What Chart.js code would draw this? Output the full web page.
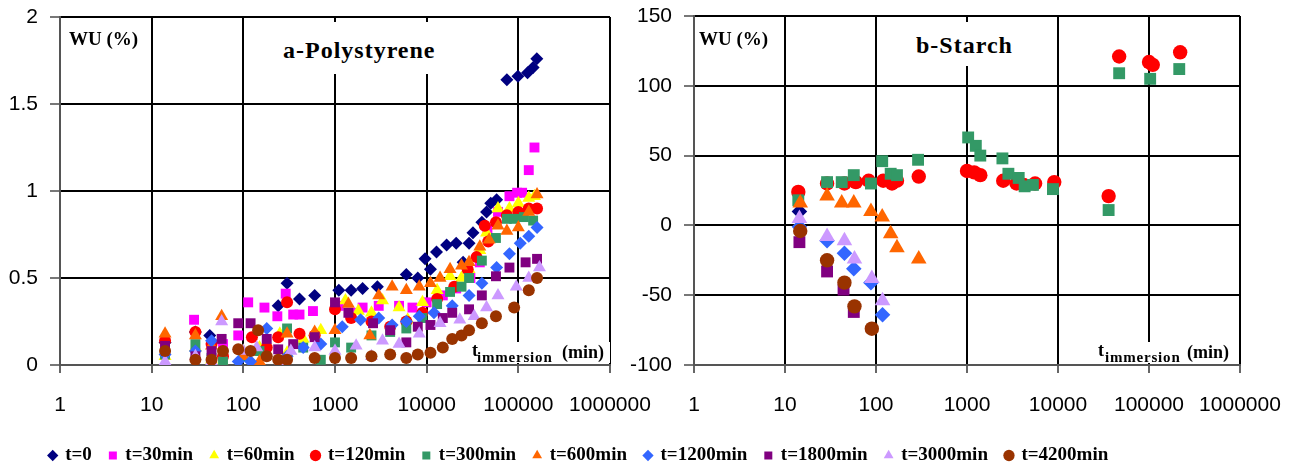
<!DOCTYPE html>
<html>
<head>
<meta charset="utf-8">
<script src="https://cdn.jsdelivr.net/npm/chart.js@4.4.0/dist/chart.umd.min.js"></script>
<style>
body{margin:0;background:#fff;width:1309px;height:468px;position:relative;overflow:hidden}
canvas{position:absolute}
.lbl{position:absolute;font-family:"Liberation Serif",serif;font-weight:bold;color:#000;background:#fff;white-space:nowrap;line-height:1;box-sizing:border-box;z-index:5}
.lbl span{position:absolute}
</style>
</head>
<body>
<canvas id="chartA" width="660" height="430" style="left:0;top:0"></canvas>
<canvas id="chartB" width="679" height="430" style="left:630px;top:0"></canvas>
<canvas id="legendC" width="1158" height="90" style="left:0;top:428px"></canvas>

<div class="lbl" style="left:69px;top:29px;font-size:19px;background:none">WU (%)</div>
<div class="lbl" style="left:262px;top:22px;width:183px;height:52px;padding:16px 0 0 21px;font-size:24px;letter-spacing:1px">a-Polystyrene</div>
<div class="lbl" style="left:468px;top:342px;width:142px;height:21px">
  <span style="left:4px;top:-1px;font-size:18px">t</span>
  <span style="left:9px;top:8px;font-size:15px;letter-spacing:0.8px">immersion</span>
  <span style="left:94px;top:1px;font-size:18px">(min)</span>
</div>

<div class="lbl" style="left:699px;top:29px;font-size:19px;background:none">WU (%)</div>
<div class="lbl" style="left:903px;top:22px;width:112px;height:44px;padding:11px 0 0 13px;font-size:24px;letter-spacing:1px">b-Starch</div>
<div class="lbl" style="left:1093px;top:342px;width:146px;height:21px">
  <span style="left:5px;top:-1px;font-size:18px">t</span>
  <span style="left:12px;top:8px;font-size:15px;letter-spacing:0.8px">immersion</span>
  <span style="left:94px;top:1px;font-size:18px">(min)</span>
</div>

<script>
// series labels
var seriesLabels = ["t=0","t=30min","t=60min","t=120min","t=300min","t=600min","t=1200min","t=1800min","t=3000min","t=4200min"];

// axis ticks
var xTickVals = [1,10,100,1000,10000,100000,1000000];
var yTicksA = [0,0.5,1,1.5,2];
var yTicksB = [-100,-50,0,50,100,150];

// a-Polystyrene: [t immersion (min), WU (%)]
var psT0 = [[14,0.13],[30,0.19],[43,0.17],[240,0.34],[300,0.47],[410,0.38],[600,0.4],[1100,0.43],[1500,0.43],[2000,0.44],[2900,0.45],[6000,0.52],[8000,0.5],[9600,0.61],[11000,0.55],[12800,0.65],[16500,0.69],[21000,0.7],[25000,0.59],[29000,0.7],[32000,0.76],[40000,0.82],[45000,0.88],[50000,0.93],[58000,0.95],[75000,1.64],[99000,1.66],[126000,1.68],[145000,1.71],[159000,1.76]];
var psT30 = [[14,0.1],[29,0.26],[60,0.12],[88,0.17],[113,0.36],[170,0.33],[235,0.28],[290,0.41],[350,0.29],[410,0.29],[575,0.31],[1100,0.34],[1500,0.3],[2000,0.33],[3000,0.34],[5000,0.34],[7000,0.33],[10000,0.36],[15000,0.4],[21000,0.44],[30000,0.5],[38000,0.59],[46000,0.78],[60000,0.88],[80000,0.97],[97000,0.99],[110000,0.99],[130000,1.12],[150000,1.25]];
var psT60 = [[14,0.05],[30,0.1],[45,0.03],[60,0.01],[100,0.08],[150,0.1],[250,0.18],[300,0.07],[450,0.15],[700,0.2],[1300,0.37],[1800,0.31],[2500,0.3],[3300,0.37],[5000,0.33],[6200,0.26],[9000,0.36],[13000,0.43],[18000,0.51],[24000,0.5],[29000,0.55],[38000,0.66],[45000,0.76],[60000,0.9],[80000,0.9],[100000,0.93],[130000,0.96],[150000,0.97]];
var psT120 = [[14,0.14],[30,0.19],[45,0.12],[60,0.05],[124,0.16],[180,0.1],[240,0.16],[300,0.36],[410,0.18],[600,0.17],[1000,0.32],[1500,0.27],[2500,0.25],[4000,0.22],[6000,0.25],[9000,0.3],[13000,0.38],[20000,0.45],[28000,0.55],[35000,0.62],[43000,0.8],[47000,0.71],[57000,0.82],[75000,0.86],[100000,0.88],[130000,0.9],[160000,0.9]];
var psT300 = [[14,0.06],[30,0.12],[45,0.04],[60,0.02],[100,0.05],[150,0.08],[300,0.21],[450,0.1],[700,0.03],[1000,0.13],[1500,0.1],[2500,0.17],[4000,0.19],[6000,0.21],[9000,0.27],[13000,0.35],[18000,0.42],[24000,0.45],[29000,0.5],[40000,0.6],[57000,0.73],[75000,0.84],[90000,0.84],[115000,0.85],[145000,0.83]];
var psT600 = [[14,0.18],[30,0.17],[45,0.11],[58,0.28],[100,0.05],[150,0.02],[300,0.18],[600,0.19],[1000,0.2],[1400,0.35],[2400,0.17],[3000,0.4],[4200,0.45],[6000,0.43],[8300,0.45],[11000,0.47],[14000,0.5],[18000,0.55],[24000,0.57],[29000,0.59],[38000,0.68],[48000,0.72],[60000,0.8],[75000,0.77],[100000,0.79],[130000,0.88],[160000,0.98]];
var psT1200 = [[14,0.06],[30,0.08],[45,0.14],[88,0.02],[120,0.02],[180,0.21],[300,0.05],[450,0.1],[700,0.12],[1200,0.22],[1900,0.26],[3000,0.27],[4200,0.23],[6000,0.25],[8300,0.28],[12000,0.3],[19000,0.34],[29000,0.4],[40000,0.47],[58000,0.56],[80000,0.64],[105000,0.7],[130000,0.74],[160000,0.79]];
var psT1800 = [[14,0.11],[30,0.05],[45,0.08],[58,0.15],[88,0.24],[120,0.24],[180,0.15],[240,0.09],[350,0.12],[600,0.16],[1000,0.36],[1400,0.3],[2600,0.24],[4000,0.2],[6000,0.13],[8000,0.22],[11000,0.23],[15000,0.27],[19000,0.3],[29000,0.32],[40000,0.4],[57000,0.51],[80000,0.56],[120000,0.59],[160000,0.61]];
var psT3000 = [[14,0.02],[30,0.05],[45,0.02],[58,0.25],[100,0.08],[140,0.1],[250,0.01],[330,0.08],[600,0.1],[1000,0.08],[1700,0.11],[2500,0.05],[3300,0.14],[5000,0.12],[8300,0.18],[14000,0.24],[23000,0.26],[33000,0.28],[45000,0.33],[60000,0.4],[95000,0.45],[130000,0.5],[170000,0.56]];
var psT4200 = [[14,0.08],[30,0.03],[45,0.03],[60,0.08],[88,0.09],[120,0.08],[145,0.2],[180,0.05],[240,0.03],[300,0.03],[600,0.04],[1000,0.04],[1500,0.04],[2500,0.05],[4000,0.06],[6000,0.04],[8000,0.06],[11000,0.07],[15000,0.1],[19000,0.15],[24000,0.17],[29000,0.2],[40000,0.24],[57000,0.28],[90000,0.33],[130000,0.43],[160000,0.5]];

// b-Starch
var stT0 = [[14.4,10]];
var stT30 = [];
var stT60 = [];
var stT120 = [[14,24],[29,30],[45,30],[60,31],[83,32],[120,32],[150,30],[170,32],[295,35],[1000,39],[1200,38],[1400,36],[2500,32],[3500,30],[4200,29],[5600,30],[9100,31],[36000,21],[47000,121],[100000,117],[110000,115],[220000,124]];
var stT300 = [[14,18],[29,31],[42,31],[57,36],[88,30],[117,46],[145,37],[170,36],[290,47],[1030,63],[1250,57],[1400,50],[2450,48],[2850,37],[3700,34],[4300,28],[5300,29],[8800,26],[36000,11],[47000,109],[103000,105],[215000,112]];
var stT600 = [[14.7,16],[29,21],[42,16],[57,16],[88,10],[117,6],[145,-6],[170,-16],[295,-24]];
var stT1200 = [[14.4,-1],[29,-11],[45,-20],[57,-31],[88,-41],[118,-64]];
var stT1800 = [[14.4,-12],[29,-33],[44,-46],[57,-62]];
var stT3000 = [[14.4,5],[29,-8],[45,-11],[58,-24],[90,-38],[118,-54]];
var stT4200 = [[14.7,-4],[29,-25],[45,-41],[58,-58],[90,-74]];

var psSeries = [psT0,psT30,psT60,psT120,psT300,psT600,psT1200,psT1800,psT3000,psT4200];
var stSeries = [stT0,stT30,stT60,stT120,stT300,stT600,stT1200,stT1800,stT3000,stT4200];

var markerColors = ["#000080","#FF00FF","#FFFF00","#FF0000","#339966","#FF6600","#3366FF","#800080","#CC99FF","#993300"];
var markerShapes = ["rectRot","rect","triangle","circle","rect","triangle","rectRot","rect","triangle","circle"];
var markerSizes = [6.5,7,7.5,6,7,7.5,6.5,7,7.5,6];

function toPts(arr) {
    return arr.map(function(p){ return {x:p[0], y:p[1]}; });
}

function makeSets(series, scale) {
    return series.map(function(s, i){
        return {
            label: seriesLabels[i],
            data: toPts(s),
            pointStyle: markerShapes[i],
            pointRadius: markerSizes[i] * scale,
            pointHoverRadius: markerSizes[i] * scale,
            backgroundColor: markerColors[i],
            borderColor: markerColors[i],
            pointBorderWidth: 0,
            order: 10 - i   // later series on top, like the original
        };
    });
}

function makeChart(id, series, yTicks, yWidth, pad, size) {
    return new Chart(document.getElementById(id).getContext("2d"), {
        type: "scatter",
        data: { datasets: makeSets(series, size) },
        options: {
            responsive: false,
            animation: false,
            layout: { padding: pad },
            plugins: { legend: { display: false }, tooltip: { enabled: false } },
            scales: {
                x: {
                    type: "logarithmic",
                    min: xTickVals[0],
                    max: xTickVals[xTickVals.length - 1],
                    afterBuildTicks: function(scale){
                        scale.ticks = xTickVals.map(function(v){ return {value: v}; });
                    },
                    afterFit: function(scale){
                        scale.height = 65;
                        scale.paddingLeft = 0;
                        scale.paddingRight = 0;
                    },
                    grid: { color: "#000", lineWidth: 2, tickLength: 8, tickColor: "#666" },
                    border: { color: "#555", width: 2 },
                    ticks: {
                        color: "#000",
                        padding: 20,
                        maxRotation: 0,
                        autoSkip: false,
                        font: { family: "Liberation Sans", size: 21 },
                        callback: function(v){ return String(v); }
                    }
                },
                y: {
                    min: yTicks[0],
                    max: yTicks[yTicks.length - 1],
                    afterBuildTicks: function(scale){
                        scale.ticks = yTicks.map(function(v){ return {value: v}; });
                    },
                    afterFit: function(scale){
                        scale.width = yWidth;
                        scale.paddingTop = 0;
                        scale.paddingBottom = 0;
                    },
                    grid: { color: "#000", lineWidth: 2, tickLength: 10, tickColor: "#777" },
                    border: { color: "#555", width: 2 },
                    ticks: {
                        color: "#000",
                        padding: 12,
                        font: { family: "Liberation Sans", size: 21 },
                        callback: function(v){ return String(v); }
                    }
                }
            }
        }
    });
}

var chartA = makeChart("chartA", psSeries, yTicksA, 60, { top: 17, right: 50, left: 0, bottom: 0 }, 1);
var chartB = makeChart("chartB", stSeries, yTicksB, 64, { top: 16, right: 69, left: 0, bottom: 0 }, 1.2);

// shared legend under both panels
var legendC = new Chart(document.getElementById("legendC").getContext("2d"), {
    type: "scatter",
    data: {
        datasets: seriesLabels.map(function(l, i){
            return {
                label: l,
                data: [],
                pointStyle: markerShapes[i],
                backgroundColor: markerColors[i],
                borderColor: markerColors[i],
                pointBorderWidth: 0
            };
        })
    },
    options: {
        responsive: false,
        animation: false,
        scales: { x: { display: false }, y: { display: false } },
        plugins: {
            tooltip: { enabled: false },
            legend: {
                display: true,
                position: "top",
                labels: {
                    usePointStyle: true,
                    boxWidth: 6,
                    boxHeight: 8,
                    padding: 18,
                    color: "#000",
                    font: { family: "Liberation Serif", size: 19, weight: "bold" }
                }
            }
        }
    }
});
</script>
</body>
</html>
